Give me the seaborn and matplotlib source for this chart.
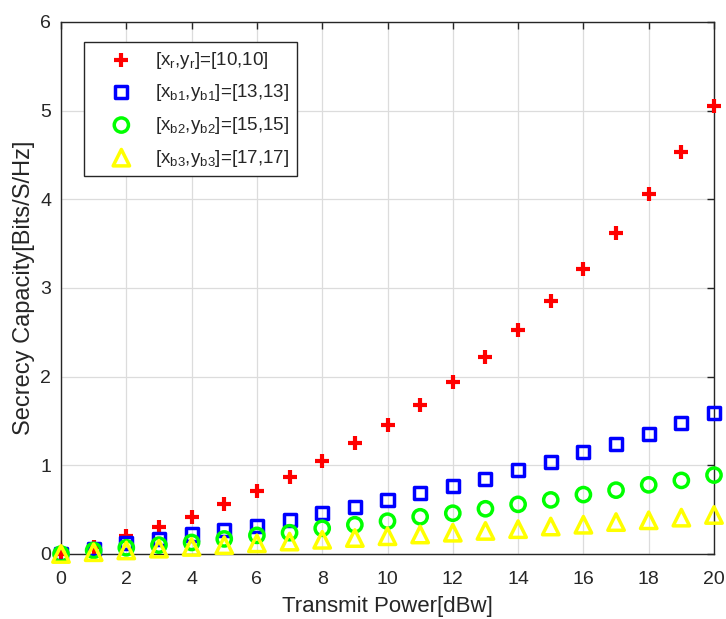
import numpy as np
import pandas as pd
import matplotlib
matplotlib.use("Agg")
import matplotlib.pyplot as plt
import seaborn as sns

# transmit power in dBw
power = list(range(0, 21))

# secrecy capacity [Bits/S/Hz]
cap_r = [0.0, 0.08, 0.20, 0.31, 0.42, 0.56, 0.71, 0.87, 1.05, 1.25, 1.46,
         1.68, 1.94, 2.22, 2.53, 2.85, 3.21, 3.62, 4.06, 4.53, 5.05]
cap_b1 = [0.0, 0.06, 0.12, 0.17, 0.22, 0.27, 0.32, 0.38, 0.46, 0.53, 0.61,
          0.69, 0.77, 0.85, 0.95, 1.04, 1.15, 1.24, 1.35, 1.48, 1.59]
cap_b2 = [0.0, 0.04, 0.07, 0.10, 0.13, 0.17, 0.21, 0.24, 0.29, 0.33, 0.37,
          0.42, 0.46, 0.51, 0.56, 0.61, 0.67, 0.72, 0.78, 0.83, 0.89]
cap_b3 = [0.0, 0.02, 0.04, 0.06, 0.08, 0.10, 0.12, 0.14, 0.16, 0.18, 0.20,
          0.22, 0.24, 0.26, 0.28, 0.31, 0.33, 0.36, 0.38, 0.41, 0.44]

labels = [r"[x$_\mathregular{r}$,y$_\mathregular{r}$]=[10,10]",
          r"[x$_\mathregular{b1}$,y$_\mathregular{b1}$]=[13,13]",
          r"[x$_\mathregular{b2}$,y$_\mathregular{b2}$]=[15,15]",
          r"[x$_\mathregular{b3}$,y$_\mathregular{b3}$]=[17,17]"]

sns.set_style("white")
plt.rcParams["font.family"] = ["Liberation Sans", "DejaVu Sans"]
plt.rcParams["text.color"] = "#262626"
plt.rcParams["axes.labelcolor"] = "#262626"
plt.rcParams["xtick.color"] = "#262626"
plt.rcParams["ytick.color"] = "#262626"

fig = plt.figure(figsize=(7.26, 6.19), dpi=100)
ax = fig.add_axes([61 / 726, 1 - 554 / 619, 653 / 726, 532 / 619])

styles = [
    (cap_r, "+", "#ff0000", 100, True),
    (cap_b1, "s", "#0000ff", 75, False),
    (cap_b2, "o", "#00ff00", 105, False),
    (cap_b3, "^", "#ffff00", 140, False),
]
for (vals, mk, col, sz, filled), lab in zip(styles, labels):
    df = pd.DataFrame({"power": power, "cap": vals})
    if filled:
        sns.scatterplot(data=df, x="power", y="cap", marker=mk, s=sz, color=col,
                        linewidth=3, label=lab, ax=ax, zorder=3, clip_on=False)
    else:
        sns.scatterplot(data=df, x="power", y="cap", marker=mk, s=sz,
                        facecolor="none", edgecolor=col, linewidth=2.5,
                        label=lab, ax=ax, zorder=3, clip_on=False)

ax.set_xlim(0, 20)
ax.set_ylim(0, 6)
ax.set_xticks(range(0, 21, 2))
ax.set_yticks(range(0, 7))
ax.grid(True, color="#dcdcdc", linewidth=0.9)
ax.tick_params(direction="in", top=True, right=True, labelsize=14,
               length=5, width=1)
ax.tick_params(axis="x", pad=12)
ax.tick_params(axis="y", pad=7)
for sp in ax.spines.values():
    sp.set_color("#262626")
    sp.set_linewidth(1.0)
ax.set_xlabel("Transmit Power[dBw]", fontsize=16, labelpad=6)
ax.set_ylabel("Secrecy Capacity[Bits/S/Hz]", fontsize=17, labelpad=4)

leg = ax.legend(loc="upper left", bbox_to_anchor=(0.035, 0.962), fontsize=13.5,
                frameon=True, fancybox=False, framealpha=1, borderpad=0.4,
                labelspacing=0.62, handlelength=3.2, handletextpad=0.2,
                borderaxespad=0)
leg.get_frame().set_edgecolor("#262626")
leg.get_frame().set_linewidth(1.0)

fig.savefig("out.png", dpi=100)
